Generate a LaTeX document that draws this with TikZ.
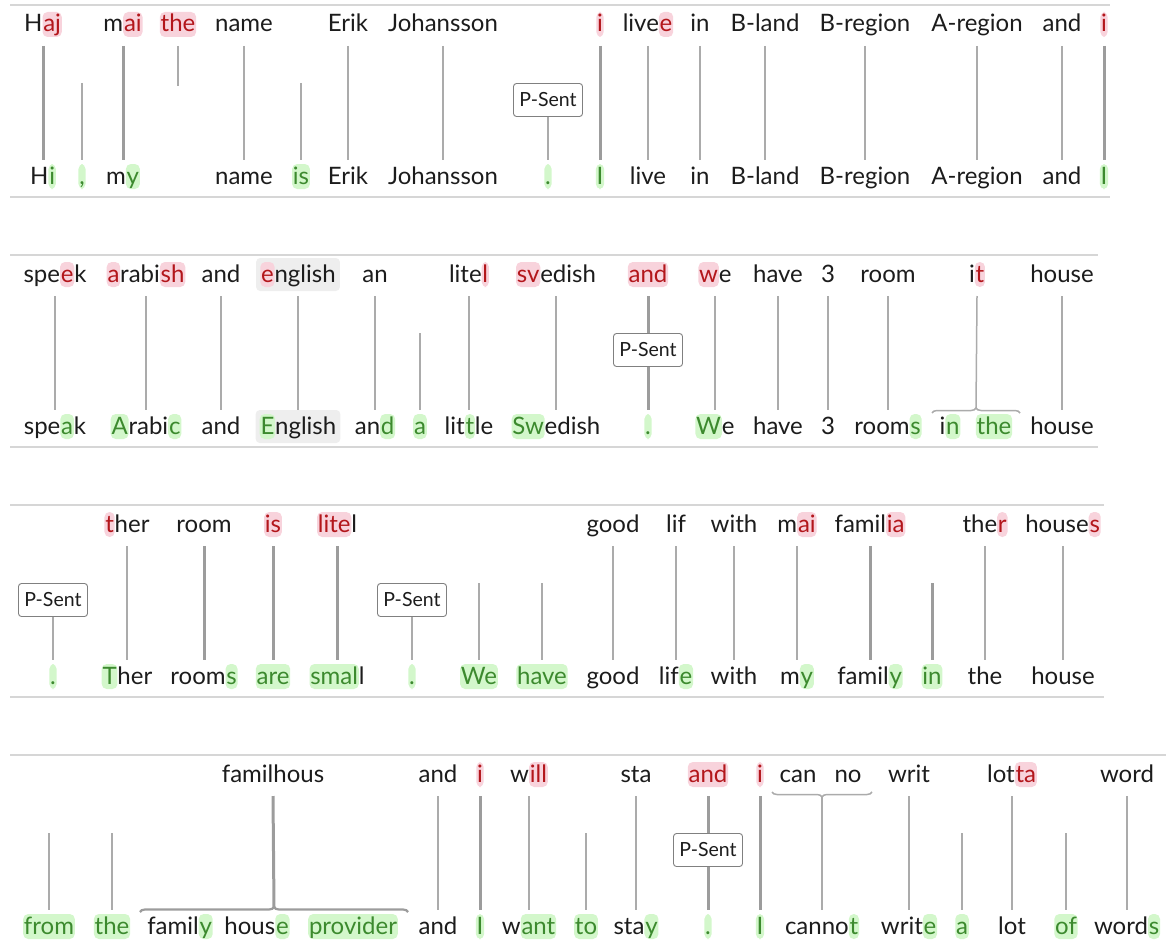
\documentclass[tikz,border=0pt]{standalone}
\usepackage{fontspec}
\setmainfont{Lato}
\usetikzlibrary{decorations.pathreplacing}

\definecolor{delbg}{HTML}{F8D3DC}
\definecolor{deltx}{HTML}{B3161B}
\definecolor{insbg}{HTML}{D3F7CB}
\definecolor{instx}{HTML}{3C8A2E}
\definecolor{wordtx}{HTML}{1C1C1C}
\definecolor{linkgray}{HTML}{ABABAB}
\definecolor{boldgray}{HTML}{9C9C9C}
\definecolor{rulegray}{HTML}{D6D6D6}
\definecolor{selbg}{HTML}{EEEEEE}
\definecolor{boxgray}{HTML}{808080}

\tikzset{
  word/.style={font=\fontsize{24}{28}\selectfont, text=wordtx, inner sep=0pt, anchor=base},
  hl/.style={inner xsep=0.8pt, inner ysep=0pt, text height=20pt, text depth=5pt,
             rounded corners=5pt, anchor=base},
  delhl/.style={hl, fill=delbg, text=deltx},
  inshl/.style={hl, fill=insbg, text=instx},
  link/.style={draw=linkgray, line width=1.5pt},
  boldlink/.style={draw=boldgray, line width=3pt},
  rulebar/.style={draw=rulegray, line width=1.8pt},
  psent/.style={draw=boxgray, line width=0.9pt, fill=white, rounded corners=3pt,
                font=\fontsize{19.5}{22}\selectfont, text=wordtx,
                minimum width=69pt, minimum height=33pt, inner sep=0pt},
  bracelink/.style={link, decorate, decoration={brace, amplitude=5pt}},
  boldbrace/.style={draw=boldgray, line width=2.2pt, decorate, decoration={brace, amplitude=5pt}},
  selbox/.style={fill=selbg, rounded corners=4pt, inner xsep=5pt, inner ysep=0pt,
                 text height=24pt, text depth=9pt, anchor=base,
                 font=\fontsize{24}{28}\selectfont},
}

% removed and inserted character spans
\newcommand\del[1]{\tikz[baseline=(h.base)]\node[delhl](h){#1};}
\newcommand\ins[1]{\tikz[baseline=(h.base)]\node[inshl](h){#1};}

% connectors: aligned pair, inserted word only, removed word only
\newcommand\linkpair[3][link]{\draw[#1] ([yshift=-14pt]#2.base) -- ([yshift=24pt]#3.base);}
\newcommand\linkins[2][link]{\draw[#1] ([yshift=101pt]#2.base) -- ([yshift=24pt]#2.base);}
\newcommand\linkdel[2][link]{\draw[#1] ([yshift=-14pt]#2.base) -- ([yshift=-54pt]#2.base);}

\begin{document}
\begin{tikzpicture}[x=1pt, y=-1pt]
\useasboundingbox (0,0) rectangle (1166,947);

% ---------------- row 1 ----------------
\begin{scope}
\draw[rulebar] (10,5) -- (1110,5);
\draw[rulebar] (10,197) -- (1110,197);
\node[word] (T1a) at (43,32) {H\del{aj}};
\node[word] (T1c) at (123,32) {m\del{ai}};
\node[word] (T1d) at (178,32) {\del{the}};
\node[word] (T1e) at (244,32) {name};
\node[word] (T1g) at (348,32) {Erik};
\node[word] (T1h) at (443,32) {Johansson};
\node[word] (T1j) at (600,32) {\del{i}};
\node[word] (T1k) at (648,32) {live\del{e}};
\node[word] (T1l) at (700,32) {in};
\node[word] (T1m) at (765,32) {B-land};
\node[word] (T1n) at (865,32) {B-region};
\node[word] (T1o) at (977,32) {A-region};
\node[word] (T1p) at (1062,32) {and};
\node[word] (T1q) at (1104,32) {\del{i}};

\node[word] (B1a) at (43,184) {H\ins{i}};
\node[word] (B1b) at (82,184) {\ins{,}};
\node[word] (B1c) at (123,184) {m\ins{y}};
\node[word] (B1e) at (244,184) {name};
\node[word] (B1f) at (301,184) {\ins{is}};
\node[word] (B1g) at (348,184) {Erik};
\node[word] (B1h) at (443,184) {Johansson};
\node[word] (B1i) at (548,184) {\ins{.}};
\node[word] (B1j) at (600,184) {\ins{I}};
\node[word] (B1k) at (648,184) {live};
\node[word] (B1l) at (700,184) {in};
\node[word] (B1m) at (765,184) {B-land};
\node[word] (B1n) at (865,184) {B-region};
\node[word] (B1o) at (977,184) {A-region};
\node[word] (B1p) at (1062,184) {and};
\node[word] (B1q) at (1104,184) {\ins{I}};

\linkpair[boldlink]{T1a}{B1a}
\linkins{B1b}
\linkpair[boldlink]{T1c}{B1c}
\linkdel{T1d}
\linkpair{T1e}{B1e}
\linkins{B1f}
\linkpair{T1g}{B1g}
\linkpair{T1h}{B1h}
\node[psent] (P1) at (548,100) {P-Sent};
\draw[link] (P1.south) -- ([yshift=24pt]B1i.base);
\linkpair[boldlink]{T1j}{B1j}
\linkpair{T1k}{B1k}
\linkpair{T1l}{B1l}
\linkpair{T1m}{B1m}
\linkpair{T1n}{B1n}
\linkpair{T1o}{B1o}
\linkpair{T1p}{B1p}
\linkpair[boldlink]{T1q}{B1q}
\end{scope}

% ---------------- row 2 ----------------
\begin{scope}[yshift=-250pt]
\draw[rulebar] (10,5) -- (1098,5);
\draw[rulebar] (10,197) -- (1098,197);
\node[selbox] (S2t) at (298,32) {\phantom{english}};
\node[selbox] (S2b) at (298,184) {\phantom{English}};
\node[word] (T2a) at (55,32) {spe\del{e}k};
\node[word] (T2b) at (146,32) {\del{a}rabi\del{sh}};
\node[word] (T2c) at (221,32) {and};
\node[word] (T2d) at (298,32) {\del{e}nglish};
\node[word] (T2e) at (375,32) {an};
\node[word] (T2g) at (469,32) {lite\del{l}};
\node[word] (T2h) at (556,32) {\del{sv}edish};
\node[word] (T2i) at (648,32) {\del{and}};
\node[word] (T2j) at (715,32) {\del{w}e};
\node[word] (T2k) at (778,32) {have};
\node[word] (T2l) at (828,32) {3};
\node[word] (T2m) at (888,32) {room};
\node[word] (T2n) at (977,32) {i\del{t}};
\node[word] (T2o) at (1062,32) {house};

\node[word] (B2a) at (55,184) {spe\ins{a}k};
\node[word] (B2b) at (146,184) {\ins{A}rabi\ins{c}};
\node[word] (B2c) at (221,184) {and};
\node[word] (B2d) at (298,184) {\ins{E}nglish};
\node[word] (B2e) at (375,184) {an\ins{d}};
\node[word] (B2f) at (420,184) {\ins{a}};
\node[word] (B2g) at (469,184) {lit\ins{t}le};
\node[word] (B2h) at (556,184) {\ins{Sw}edish};
\node[word] (B2i) at (648,184) {\ins{.}};
\node[word] (B2j) at (715,184) {\ins{W}e};
\node[word] (B2k) at (778,184) {have};
\node[word] (B2l) at (828,184) {3};
\node[word] (B2m) at (888,184) {room\ins{s}};
\node[word] (B2n1) at (950,184) {i\ins{n}};
\node[word] (B2n2) at (994,184) {\ins{the}};
\node[word] (B2o) at (1062,184) {house};

\linkpair{T2a}{B2a}
\linkpair{T2b}{B2b}
\linkpair{T2c}{B2c}
\linkpair{T2d}{B2d}
\linkpair{T2e}{B2e}
\linkins{B2f}
\linkpair{T2g}{B2g}
\linkpair{T2h}{B2h}
\node[psent] (P2) at (648,100) {P-Sent};
\draw[boldlink] ([yshift=-14pt]T2i.base) -- (P2.north);
\draw[boldlink] (P2.south) -- ([yshift=24pt]B2i.base);
\linkpair{T2j}{B2j}
\linkpair{T2k}{B2k}
\linkpair{T2l}{B2l}
\linkpair{T2m}{B2m}
\coordinate (G2l) at (932,163);
\coordinate (G2r) at (1020,163);
\coordinate (G2m) at (976,158);
\draw[bracelink] (G2l) -- (G2r);
\draw[link] ([yshift=-14pt]T2n.base) -- (G2m);
\linkpair{T2o}{B2o}
\end{scope}

% ---------------- row 3 ----------------
\begin{scope}[yshift=-500pt]
\draw[rulebar] (10,5) -- (1104,5);
\draw[rulebar] (10,197) -- (1104,197);
\node[word] (T3b) at (127,32) {\del{t}her};
\node[word] (T3c) at (204,32) {room};
\node[word] (T3d) at (273,32) {\del{is}};
\node[word] (T3e) at (337,32) {\del{lite}l};
\node[word] (T3i) at (613,32) {good};
\node[word] (T3j) at (676,32) {lif};
\node[word] (T3k) at (734,32) {with};
\node[word] (T3l) at (797,32) {m\del{ai}};
\node[word] (T3m) at (870,32) {famil\del{ia}};
\node[word] (T3o) at (985,32) {the\del{r}};
\node[word] (T3p) at (1063,32) {house\del{s}};

\node[word] (B3a) at (53,184) {\ins{.}};
\node[word] (B3b) at (127,184) {\ins{T}her};
\node[word] (B3c) at (204,184) {room\ins{s}};
\node[word] (B3d) at (273,184) {\ins{are}};
\node[word] (B3e) at (337,184) {\ins{smal}l};
\node[word] (B3f) at (412,184) {\ins{.}};
\node[word] (B3g) at (479,184) {\ins{We}};
\node[word] (B3h) at (542,184) {\ins{have}};
\node[word] (B3i) at (613,184) {good};
\node[word] (B3j) at (676,184) {lif\ins{e}};
\node[word] (B3k) at (734,184) {with};
\node[word] (B3l) at (797,184) {m\ins{y}};
\node[word] (B3m) at (870,184) {famil\ins{y}};
\node[word] (B3n) at (932,184) {\ins{in}};
\node[word] (B3o) at (985,184) {the};
\node[word] (B3p) at (1063,184) {house};

\node[psent] (P3a) at (53,100) {P-Sent};
\draw[link] (P3a.south) -- ([yshift=24pt]B3a.base);
\linkpair{T3b}{B3b}
\linkpair[boldlink]{T3c}{B3c}
\linkpair[boldlink]{T3d}{B3d}
\linkpair[boldlink]{T3e}{B3e}
\node[psent] (P3f) at (412,100) {P-Sent};
\draw[link] (P3f.south) -- ([yshift=24pt]B3f.base);
\linkins{B3g}
\linkins{B3h}
\linkpair{T3i}{B3i}
\linkpair{T3j}{B3j}
\linkpair{T3k}{B3k}
\linkpair{T3l}{B3l}
\linkpair[boldlink]{T3m}{B3m}
\linkins[boldlink]{B3n}
\linkpair{T3o}{B3o}
\linkpair{T3p}{B3p}
\end{scope}

% ---------------- row 4 ----------------
\begin{scope}[yshift=-750pt]
\draw[rulebar] (10,5) -- (1166,5);
\node[word] (T4c) at (273,32) {familhous};
\node[word] (T4d) at (438,32) {and};
\node[word] (T4e) at (480,32) {\del{i}};
\node[word] (T4f) at (529,32) {w\del{ill}};
\node[word] (T4h) at (636,32) {sta};
\node[word] (T4i) at (708,32) {\del{and}};
\node[word] (T4j) at (760,32) {\del{i}};
\node[word] (T4k1) at (798,32) {can};
\node[word] (T4k2) at (848,32) {no};
\node[word] (T4l) at (909,32) {writ};
\node[word] (T4n) at (1012,32) {lot\del{ta}};
\node[word] (T4p) at (1127,32) {word};

\node[word] (B4a) at (49,184) {\ins{from}};
\node[word] (B4b) at (112,184) {\ins{the}};
\node[word] (B4c1) at (180,184) {famil\ins{y}};
\node[word] (B4c2) at (257,184) {hous\ins{e}};
\node[word] (B4c3) at (353,184) {\ins{provider}};
\node[word] (B4d) at (438,184) {and};
\node[word] (B4e) at (480,184) {\ins{I}};
\node[word] (B4f) at (529,184) {w\ins{ant}};
\node[word] (B4g) at (586,184) {\ins{to}};
\node[word] (B4h) at (636,184) {sta\ins{y}};
\node[word] (B4i) at (708,184) {\ins{.}};
\node[word] (B4j) at (760,184) {\ins{I}};
\node[word] (B4k) at (822,184) {canno\ins{t}};
\node[word] (B4l) at (909,184) {writ\ins{e}};
\node[word] (B4m) at (962,184) {\ins{a}};
\node[word] (B4n) at (1012,184) {lot};
\node[word] (B4o) at (1066,184) {\ins{of}};
\node[word] (B4p) at (1127,184) {word\ins{s}};

\linkins{B4a}
\linkins{B4b}
\coordinate (G4l) at (140,162);
\coordinate (G4r) at (408,162);
\coordinate (G4m) at (274,157);
\draw[boldbrace] (G4l) -- (G4r);
\draw[boldlink] ([yshift=-14pt]T4c.base) -- (G4m);
\linkpair{T4d}{B4d}
\linkpair[boldlink]{T4e}{B4e}
\linkpair{T4f}{B4f}
\linkins{B4g}
\linkpair{T4h}{B4h}
\node[psent] (P4) at (708,100) {P-Sent};
\draw[boldlink] ([yshift=-14pt]T4i.base) -- (P4.north);
\draw[boldlink] (P4.south) -- ([yshift=24pt]B4i.base);
\linkpair[boldlink]{T4j}{B4j}
\coordinate (H4r) at (872,42);
\coordinate (H4l) at (772,42);
\coordinate (H4m) at (822,47);
\draw[bracelink] (H4r) -- (H4l);
\draw[link] (H4m) -- ([yshift=24pt]B4k.base);
\linkpair{T4l}{B4l}
\linkins{B4m}
\linkpair{T4n}{B4n}
\linkins{B4o}
\linkpair{T4p}{B4p}
\end{scope}
\end{tikzpicture}
\end{document}
